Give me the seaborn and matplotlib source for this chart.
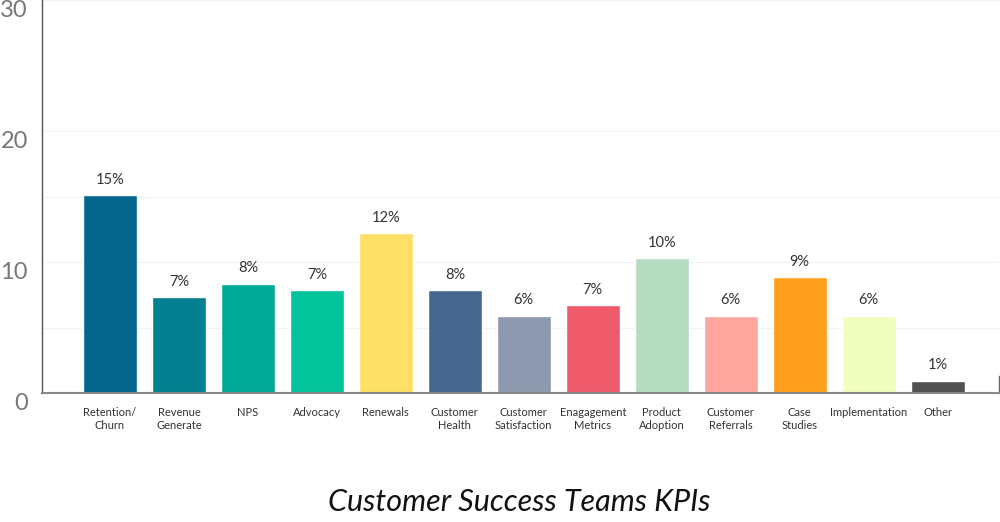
import pandas as pd
import matplotlib.pyplot as plt
import seaborn as sns

categories = ["Retention/\nChurn", "Revenue\nGenerate", "NPS", "Advocacy", "Renewals",
              "Customer\nHealth", "Customer\nSatisfaction", "Enagagement\nMetrics",
              "Product\nAdoption", "Customer\nReferrals", "Case\nStudies",
              "Implementation", "Other"]
values = [15.1, 7.3, 8.36, 7.85, 12.2, 7.85, 5.9, 6.7, 10.3, 5.9, 8.85, 5.9, 0.95]
value_labels = ["15%", "7%", "8%", "7%", "12%", "8%", "6%", "7%", "10%", "6%", "9%", "6%", "1%"]
colors = ["#05668D", "#028090", "#00A896", "#02C39A", "#FFE066", "#466890", "#8D99AE",
          "#F05B6B", "#B4DCC0", "#FFA69E", "#FF9F1C", "#F0FFBD", "#505050"]
y_ticks = [0, 10, 20, 30]

df = pd.DataFrame({"kpi": categories, "value": values})

sns.set_style("white")
plt.rcParams["font.family"] = ["Lato", "DejaVu Sans"]

fig = plt.figure(figsize=(10, 5.22), dpi=100)
ax = fig.add_axes([0.0417, 0.247, 0.9573, 0.753])

sns.barplot(data=df, x="kpi", y="value", hue="kpi", palette=colors,
            legend=False, width=0.78, saturation=1, ax=ax)

for cont, lab in zip(ax.containers, value_labels):
    ax.bar_label(cont, labels=[lab], padding=6, fontsize=10.5, color="#333333")

ax.set_xlim(-0.99, 12.89)
ax.set_ylim(0, 30)
ax.set_yticks(y_ticks)
ax.set_yticks([5, 15], minor=True)
ax.grid(axis="y", which="both", color="#f2f2f2", linewidth=0.8)
ax.set_axisbelow(True)

ax.tick_params(axis="y", which="major", direction="in", length=9, width=1, color="#555555",
               pad=10, labelsize=17, labelcolor="#777777")
ax.tick_params(axis="y", which="minor", length=0)
for t in ax.get_yticklabels():
    t.set_va("top")
ax.tick_params(axis="x", length=0, pad=10, labelsize=8, labelcolor="#333333")

ax.set_xlabel("")
ax.set_ylabel("")
ax.spines["top"].set_visible(False)
ax.spines["left"].set_color("#555555")
ax.spines["left"].set_linewidth(1)
ax.spines["bottom"].set_color("#888888")
ax.spines["bottom"].set_linewidth(1.5)
ax.spines["right"].set_color("#666666")
ax.spines["right"].set_linewidth(1)
ax.spines["right"].set_bounds(0, 1.3)

fig.text(0.519, 1 - 502 / 522, "Customer Success Teams KPIs", ha="center", va="center",
         fontsize=22, style="italic", color="#111111")

plt.savefig("out.png", dpi=100)
